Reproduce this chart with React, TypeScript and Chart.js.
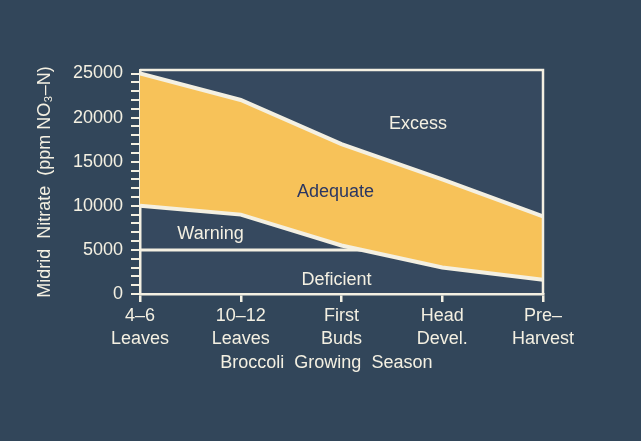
import React, { useEffect, useRef } from "react";
import { Chart, registerables } from "chart.js";

Chart.register(...registerables);

// ---- data ----
const categories: string[][] = [
  ["4–6", "Leaves"],
  ["10–12", "Leaves"],
  ["First", "Buds"],
  ["Head", "Devel."],
  ["Pre–", "Harvest"],
];
const excessThreshold = [25000, 22000, 17000, 13000, 8800]; // Adequate / Excess boundary
const adequateThreshold = [10000, 9000, 5500, 3000, 1600]; // Warning / Adequate boundary
const deficientLevel = 5000; // Deficient / Warning boundary

const yMax = 25400;
const yTickTop = 25000;
const yMajorStep = 5000;
const yMinorStep = 1000;

const yTitle = "Midrid  Nitrate  (ppm NO₃–N)";
const xTitle = "Broccoli  Growing  Season";

const regionNames = ["Excess", "Adequate", "Warning", "Deficient"];
// label anchors in data units (category index, ppm)
const regionAnchorX = [2.76, 1.94, 0.7, 1.95];
const regionAnchorY = [19300, 11600, 6800, 1600];

const CREAM = "#f4f0e2";
const YELLOW = "#f7c259";
const NAVY_TEXT = "#2a3662";
const BG = "#32465a";
const PLOT_BG = "#36495f";
const FONT = "'Liberation Sans', Arial, Helvetica, sans-serif";

// index where the deficient level meets the adequate threshold line
function deficientEnd(): number {
  for (let i = 0; i < adequateThreshold.length - 1; i++) {
    const a = adequateThreshold[i];
    const b = adequateThreshold[i + 1];
    if (a >= deficientLevel && b <= deficientLevel) {
      return i + (a - deficientLevel) / (a - b);
    }
  }
  return categories.length - 1;
}

function yTicks(): { value: number }[] {
  const out: { value: number }[] = [];
  for (let v = 0; v <= yTickTop; v += yMinorStep) out.push({ value: v });
  return out;
}

export default function App() {
  const ref = useRef<HTMLCanvasElement | null>(null);

  useEffect(() => {
    document.body.style.margin = "0";
    document.body.style.background = BG;
    const canvas = ref.current;
    if (!canvas) return;

    const endIdx = deficientEnd();

    const decorPlugin = {
      id: "decor",
      beforeDraw(chart: any) {
        const { ctx, chartArea } = chart;
        ctx.save();
        ctx.fillStyle = PLOT_BG;
        ctx.fillRect(chartArea.left, chartArea.top, chartArea.right - chartArea.left, chartArea.bottom - chartArea.top);
        ctx.restore();
      },
      afterDraw(chart: any) {
        const { ctx, chartArea, scales } = chart;
        const xs = scales.x;
        const ys = scales.y;
        ctx.save();
        // top & right frame
        ctx.strokeStyle = CREAM;
        ctx.lineWidth = 2.5;
        ctx.beginPath();
        ctx.moveTo(chartArea.left, chartArea.top);
        ctx.lineTo(chartArea.right, chartArea.top);
        ctx.lineTo(chartArea.right, chartArea.bottom);
        ctx.stroke();
        // region labels
        ctx.font = `18px ${FONT}`;
        ctx.textAlign = "center";
        ctx.textBaseline = "middle";
        regionNames.forEach((name, i) => {
          ctx.fillStyle = name === "Adequate" ? NAVY_TEXT : CREAM;
          ctx.fillText(name, xs.getPixelForValue(regionAnchorX[i]), ys.getPixelForValue(regionAnchorY[i]));
        });
        // x title
        ctx.fillStyle = CREAM;
        ctx.fillText(xTitle, xs.getPixelForValue(1.85), chartArea.bottom + 69);
        ctx.restore();
      },
    };

    const chart = new Chart(canvas, {
      type: "line",
      data: {
        datasets: [
          {
            label: "Excess threshold",
            data: excessThreshold.map((v, i) => ({ x: i, y: v })),
            borderColor: CREAM,
            borderWidth: 4,
            backgroundColor: YELLOW,
            fill: "+1",
            pointRadius: 0,
            tension: 0,
          },
          {
            label: "Adequate threshold",
            data: adequateThreshold.map((v, i) => ({ x: i, y: v })),
            borderColor: CREAM,
            borderWidth: 4,
            fill: false,
            pointRadius: 0,
            tension: 0,
          },
          {
            label: "Deficient level",
            data: [
              { x: 0, y: deficientLevel },
              { x: endIdx, y: deficientLevel },
            ],
            borderColor: CREAM,
            borderWidth: 3,
            fill: false,
            pointRadius: 0,
            tension: 0,
          },
        ],
      },
      options: {
        animation: false,
        responsive: false,
        maintainAspectRatio: false,
        layout: { padding: { top: 70, right: 98, left: 30, bottom: 0 } },
        plugins: {
          legend: { display: false },
          tooltip: { enabled: false },
          filler: { drawTime: "beforeDatasetsDraw" },
        },
        scales: {
          x: {
            type: "linear",
            min: 0,
            max: categories.length - 1,
            afterFit: (s: any) => {
              s.height = 147;
            },
            ticks: {
              stepSize: 1,
              autoSkip: false,
              maxRotation: 0,
              color: CREAM,
              padding: 3,
              font: { family: FONT, size: 18, lineHeight: 1.27 },
              callback: (v: any) => categories[Math.round(Number(v))] ?? "",
            },
            grid: {
              drawOnChartArea: false,
              drawTicks: true,
              tickLength: 8,
              color: CREAM,
              lineWidth: 2.5,
            },
            border: { display: true, color: CREAM, width: 2.5 },
          },
          y: {
            type: "linear",
            min: 0,
            max: yMax,
            afterBuildTicks: (s: any) => {
              s.ticks = yTicks();
            },
            afterFit: (s: any) => {
              s.width = 110;
            },
            ticks: {
              autoSkip: false,
              color: CREAM,
              padding: 8,
              font: { family: FONT, size: 18 },
              callback: (v: any) => (Number(v) % yMajorStep === 0 ? String(v) : ""),
            },
            grid: {
              drawOnChartArea: false,
              drawTicks: true,
              tickLength: 9,
              color: CREAM,
              lineWidth: 2,
            },
            border: { display: true, color: CREAM, width: 2.5 },
            title: {
              display: true,
              text: yTitle,
              color: CREAM,
              font: { family: FONT, size: 18 },
              padding: { top: 4, bottom: 4 },
            },
          },
        },
      },
      plugins: [decorPlugin],
    } as any);

    return () => chart.destroy();
  }, []);

  return (
    <div style={{ width: 641, height: 441, background: BG }}>
      <canvas ref={ref} width={641} height={441} style={{ display: "block" }} />
    </div>
  );
}
